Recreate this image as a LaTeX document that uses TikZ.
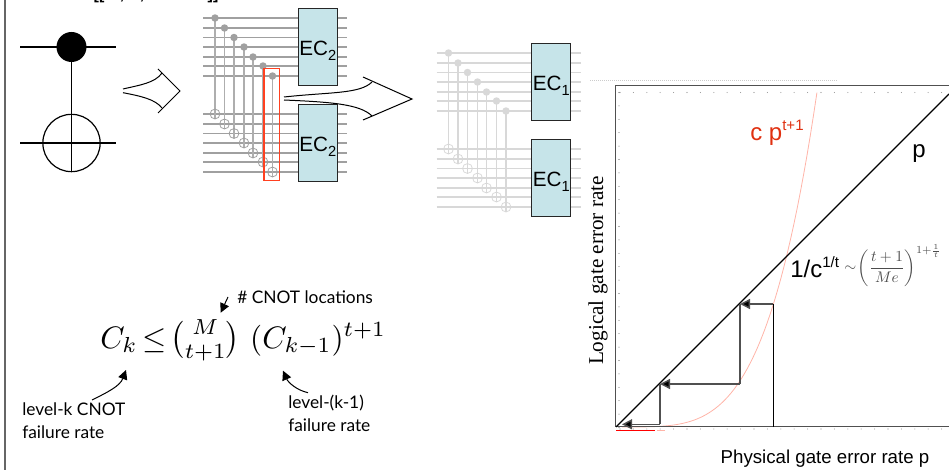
\documentclass[tikz,border=0pt]{standalone}
\usepackage{amsmath}
\usepackage{fontspec}
\setmainfont{Liberation Sans}
\newfontfamily\timesf{Liberation Serif}
\newfontfamily\handf{Lato}
\usetikzlibrary{arrows.meta}
\definecolor{boxfill}{HTML}{C6E4E9}
\definecolor{wireA}{HTML}{A0A0A0}
\definecolor{wireB}{HTML}{D8D8D8}
\definecolor{redbox}{HTML}{FF4020}
\definecolor{redtxt}{HTML}{E03010}
\definecolor{redcurve}{HTML}{FFB4A8}
\definecolor{framec}{HTML}{505050}
\newcommand{\mysup}[1]{\raisebox{0.42em}{\fontsize{11.3}{12}\selectfont #1}}
\newcommand{\mysub}[1]{\raisebox{-3.75pt}{\fontsize{11}{12}\selectfont #1}}
\tikzset{
  x=0.75pt,y=-0.75pt,
  ecbox/.style={draw=black!85,line width=0.8pt,fill=boxfill,minimum width=29pt,minimum height=57.5pt,inner sep=0pt,text height=12.4pt,text depth=0pt,font=\fontsize{15.5}{18}\selectfont},
  hollow/.style={draw=black,line width=0.75pt,fill=none},
  frameline/.style={draw=framec,line width=1.1pt},
  stepv/.style={draw=framec,line width=1.1pt},
  steph/.style={draw=framec,line width=1.1pt,-{Triangle[length=7.5pt,width=7.5pt,fill=black]}},
  hand/.style={font=\handf\fontsize{13}{17}\selectfont,inner sep=0pt,align=left},
  handarrow/.style={draw=black,line width=0.75pt,-{Triangle[length=7pt,width=7pt,fill=black]}},
  toptext/.style={anchor=base,inner sep=0pt,font=\bfseries\fontsize{12}{14}\selectfont},
  biglabel/.style={anchor=base west,inner sep=0pt,font=\fontsize{18}{20}\selectfont},
}
\begin{document}
\begin{tikzpicture}
\useasboundingbox (0,0) rectangle (949,470);
\clip (0,0) rectangle (949,470);
% left border
\draw[draw=black!60,line width=1pt] (5,0) -- (5,470);
% cropped title at the top
\node[toptext] (t1) at (99,0) {[[};
\node[toptext] (t2) at (122,0) {,};
\node[toptext] (t3) at (142,0) {,};
\node[toptext] (t4) at (213,0) {]]};
% CNOT
\coordinate (cL1) at (20,47); \coordinate (cR1) at (116,47);
\coordinate (cL2) at (20,143); \coordinate (cR2) at (116,143);
\node[circle,fill=black,minimum size=22.5pt,inner sep=0pt] (ctrl) at (71.5,47) {};
\node[circle,draw=black,line width=0.9pt,minimum size=43pt,inner sep=0pt] (targ) at (71.5,143) {};
\draw[black,line width=0.9pt] (cL1) -- (cR1);
\draw[black,line width=0.9pt] (cL2) -- (cR2);
\draw[black,line width=0.9pt] (ctrl) -- (targ.south);
% hollow arrows
\draw[hollow] (123,89) .. controls (140,85) and (155,83) .. (162,73);
\draw[hollow] (158,69) -- (180,91) -- (158,113);
\draw[hollow] (123,92.7) .. controls (140,96) and (155,99) .. (162,108);
% first block
\foreach \yy in {18,28,37.5,47,57,66,76,114,124,133.5,143,153,162,172}
  \draw[wireA,line width=1.1pt] (203,\yy) -- (347,\yy);
\foreach \xx/\ya/\yb in {215/18/114,224.5/28/124,234/37.5/133.5,244/47/143,253/57/153,263/66/162,272.5/76/172}{
  \draw[wireA!85,line width=1pt] (\xx,\ya) -- (\xx,\yb+5);
  \fill[wireA] (\xx,\ya) circle (2.8pt);
  \draw[wireA,line width=0.6pt] (\xx,\yb) circle (3.7pt);
}
\draw[redbox,line width=0.8pt] (264,68.5) rectangle (279.5,180.5);
\node[ecbox] (ec2a) at (317.75,46.75) {EC\mysub{2}};
\node[ecbox] (ec2b) at (317.75,142.75) {EC\mysub{2}};
\draw[hollow] (284,97) .. controls (330,92) and (360,94) .. (372,82);
\draw[hollow] (363,77) -- (412,99) -- (363,120);
\draw[hollow] (284,100) .. controls (330,102) and (360,104) .. (372,116);
% second block
\foreach \yy in {53,63,72.5,82,92,101,111,149,159,168.5,178,188,197,207}
  \draw[wireB,line width=1.1pt] (436.5,\yy) -- (580.5,\yy);
\foreach \xx/\ya/\yb in {448.5/53/149,458/63/159,467.5/72.5/168.5,477.5/82/178,486.5/92/188,496.5/101/197,506/111/207}{
  \draw[wireB,line width=1pt] (\xx,\ya) -- (\xx,\yb+5);
  \fill[wireB] (\xx,\ya) circle (2.8pt);
  \draw[wireB,line width=0.6pt] (\xx,\yb) circle (3.7pt);
}
\node[ecbox] (ec1a) at (551.25,81.75) {EC\mysub{1}};
\node[ecbox] (ec1b) at (551.25,177.75) {EC\mysub{1}};
% plot
\draw[black!20,line width=0.5pt,densely dotted] (590,80) -- (837,80);
\foreach \k in {0,...,25}{
  \fill[black!45] (620+\k*13.4,92.5) circle (0.4pt);
  \fill[black!45] (620+\k*13.4,429) circle (0.4pt);
}
\foreach \k in {0,...,25}
  \fill[black!60] (619,92.5+\k*13.4) circle (0.4pt);
\draw[redcurve,line width=0.6pt] plot[domain=0.03:1.0,samples=60] ({616+201*\x},{427-335*\x^4.1});
\coordinate (o) at (616,427);
\coordinate (diagEnd) at (949,94);
\draw[frameline] (949,85.7) -- (615.7,85.7) -- (615.7,426.7) -- (949,426.7);
\draw[black,line width=0.9pt] (o) -- (diagEnd);
\coordinate (s0) at (773.3,427); \coordinate (s1) at (773.3,304);
\coordinate (s2) at (740,304); \coordinate (s3) at (740,384);
\coordinate (s4) at (660,384); \coordinate (s5) at (660,424.3);
\coordinate (s6) at (622,424.3);
\draw[black,line width=0.75pt] (s0) -- (s1);
\draw[steph] (s1) -- (s2);
\draw[stepv] (s2) -- (s3);
\draw[steph] (s3) -- (s4);
\draw[stepv] (s4) -- (s5);
\draw[steph] (s5) -- (s6);
\draw[red,line width=0.8pt] (616,430.3) -- (655,430.3);
\draw[redcurve,line width=0.8pt] (657,430.3) -- (665,430.3);
% labels
\node[biglabel,text=redtxt] (cp) at (750,140.7) {c p\mysup{t+1}};
\node[biglabel] (plab) at (912,158) {p};
\node[biglabel] (thr) at (790,277.3) {1/c\mysup{1/t}};
\node[anchor=base west,inner sep=0pt,text=black!70] (thrm) at (844,272) {\scalebox{1.15}{$\displaystyle\sim\!\left(\frac{t+1}{Me}\right)^{1+\frac{1}{t}}$}};
\node[rotate=90,inner sep=0pt,font=\timesf\fontsize{15.9}{18}\selectfont] (ylab) at (598,270.5) {Logical gate error rate};
\node[anchor=base,inner sep=0pt,font=\fontsize{14}{16}\selectfont] (xlab) at (825,463) {Physical gate error rate p};
% formula
\node[anchor=base west,inner sep=0pt] (eq) at (100,348) {\scalebox{2.33}{$C_k\mkern-2.5mu\leq\mkern-2.5mu\binom{M}{t+1}\,\,(C_{k-1})^{t+1}$}};
\node[hand,anchor=base west] (cn) at (237,303) {\# CNOT locations};
\node[hand,anchor=base west] (lk) at (22,438) {level-k CNOT\\failure rate};
\node[hand,anchor=base west] (lk1) at (288,431) {level-(k-1)\\failure rate};
\coordinate (a1s) at (228,297); \coordinate (a1e) at (220.7,312.7);
\coordinate (a2s) at (92,400); \coordinate (a2e) at (126,370);
\coordinate (a3s) at (308,392.7); \coordinate (a3e) at (283,370.7);
\draw[handarrow] (a1s) -- (a1e);
\draw[handarrow] (a2s) .. controls (108,392) and (120,386) .. (a2e);
\draw[handarrow] (a3s) .. controls (296,390) and (288,382) .. (a3e);
\end{tikzpicture}
\end{document}
